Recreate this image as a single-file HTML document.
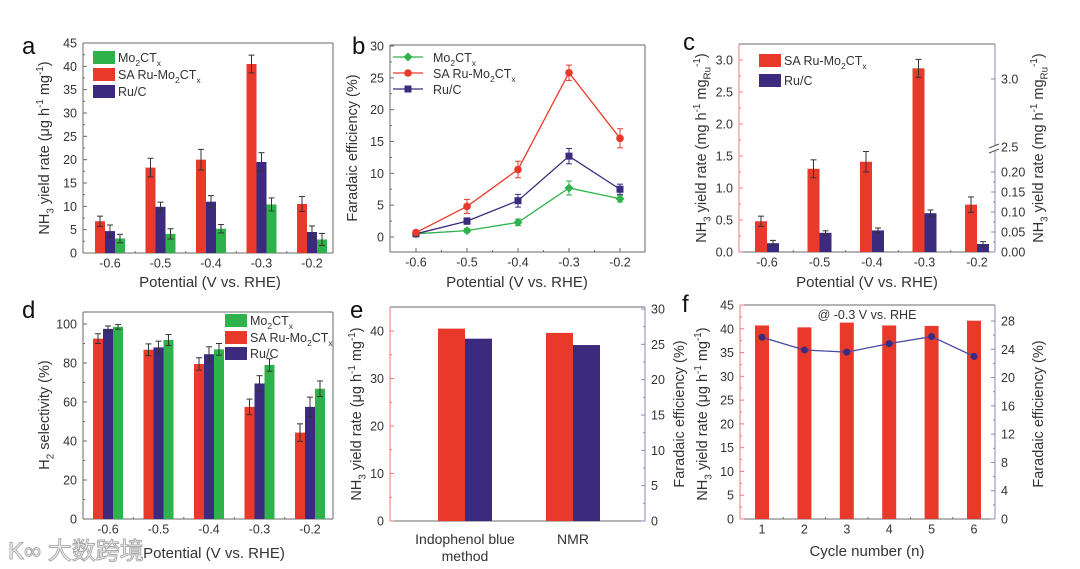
<!DOCTYPE html>
<html><head><meta charset="utf-8"><style>
html,body{margin:0;padding:0;background:#fff;}
svg{display:block;font-family:"Liberation Sans",Arial,sans-serif;}
</style></head><body>
<svg id="fig" width="1080" height="569" viewBox="0 0 1080 569" xmlns="http://www.w3.org/2000/svg"></svg>
<script>
// ---- data ----
const potentials = [-0.6, -0.5, -0.4, -0.3, -0.2];
// panel a
const aRed = [6.8, 18.3, 20.0, 40.5, 10.5];
const aRedErr = [1.1, 2.0, 2.2, 1.9, 1.6];
const aBlue = [4.7, 9.9, 11.0, 19.5, 4.5];
const aBlueErr = [1.3, 1.0, 1.3, 2.0, 1.3];
const aGreen = [3.1, 4.1, 5.2, 10.4, 2.9];
const aGreenErr = [0.9, 1.1, 0.9, 1.4, 1.3];
// panel b
const bGreen = [0.5, 1.0, 2.3, 7.7, 6.0];
const bGreenErr = [0.2, 0.3, 0.5, 1.1, 0.5];
const bRed = [0.7, 4.8, 10.6, 25.8, 15.5];
const bRedErr = [0.3, 1.1, 1.3, 1.2, 1.5];
const bBlue = [0.5, 2.5, 5.7, 12.7, 7.5];
const bBlueErr = [0.3, 0.5, 1.0, 1.2, 0.8];
// panel c
const cRed = [0.48, 1.30, 1.41, 2.87, 0.74];
const cRedErr = [0.08, 0.14, 0.16, 0.14, 0.12];
const cBlue = [0.022, 0.048, 0.054, 0.097, 0.020];
const cBlueErr = [0.007, 0.005, 0.006, 0.008, 0.006];
// panel d
const dRed = [92.5, 86.8, 79.5, 57.5, 44.3];
const dRedErr = [2.5, 3.0, 3.2, 4.0, 4.5];
const dBlue = [97.5, 88.0, 84.5, 69.5, 57.5];
const dBlueErr = [1.5, 3.2, 3.8, 4.0, 5.0];
const dGreen = [98.5, 91.8, 87.0, 79.0, 66.8];
const dGreenErr = [1.2, 2.8, 3.0, 3.2, 4.0];
// panel e
const eMethods = ["Indophenol blue", "NMR"];
const eYield = [40.5, 39.6];
const eFE = [25.8, 24.9];
// panel f
const fCycles = [1, 2, 3, 4, 5, 6];
const fYield = [40.7, 40.3, 41.3, 40.7, 40.6, 41.7];
const fFE = [25.7, 23.9, 23.6, 24.8, 25.8, 23.0];
// tick labels
const aTicks = [0, 5, 10, 15, 20, 25, 30, 35, 40, 45];
const bTicks = [0, 5, 10, 15, 20, 25, 30];
const cLeftTicks = [0, 0.5, 1.0, 1.5, 2.0, 2.5, 3.0];
const cRightTicks = [0, 0.05, 0.10, 0.15, 0.20];
const dTicks = [0, 20, 40, 60, 80, 100];
const eLeftTicks = [0, 10, 20, 30, 40];
const eRightTicks = [0, 5, 10, 15, 20, 25, 30];
const fLeftTicks = [0, 5, 10, 15, 20, 25, 30, 35, 40, 45];
const fRightTicks = [0, 4, 8, 12, 16, 20, 24, 28];

const RED = "#e8392b", BLUE = "#3b2a7e", GREEN = "#2fb24b", AX = "#6a6a6a", TXT = "#333";
const svg = document.getElementById("fig");
const NS = "http://www.w3.org/2000/svg";
function el(tag, attrs, parent) {
  const e = document.createElementNS(NS, tag);
  for (const k in attrs) e.setAttribute(k, attrs[k]);
  (parent || svg).appendChild(e);
  return e;
}
function rich(x, y, str, size, anchor, rot, parent) {
  const t = el("text", {x: x, y: y, "font-size": size, fill: TXT, "text-anchor": anchor || "start"}, parent);
  if (rot) t.setAttribute("transform", "rotate(-90 " + x + " " + y + ")");
  const parts = str.split(/(_\{[^}]*\}|\^\{[^}]*\})/);
  let off = 0;
  parts.forEach(p => {
    if (!p) return;
    const ts = document.createElementNS(NS, "tspan");
    let want = 0, s = p;
    if (p.startsWith("_{")) { want = size * 0.3; s = p.slice(2, -1); ts.setAttribute("font-size", size * 0.68); }
    else if (p.startsWith("^{")) { want = -size * 0.4; s = p.slice(2, -1); ts.setAttribute("font-size", size * 0.68); }
    ts.setAttribute("dy", want - off); off = want;
    ts.textContent = s;
    t.appendChild(ts);
  });
  return t;
}
function lin(d0, d1, r0, r1) { return v => r0 + (v - d0) * (r1 - r0) / (d1 - d0); }
function box(x0, y0, x1, y1, leftCol, rightCol) {
  const g = el("g", {});
  el("line", {x1: x0, y1: y0, x2: x1, y2: y0, stroke: AX}, g);
  el("line", {x1: x0, y1: y1, x2: x1, y2: y1, stroke: AX}, g);
  el("line", {x1: x0, y1: y0, x2: x0, y2: y1, stroke: leftCol || AX}, g);
  el("line", {x1: x1, y1: y0, x2: x1, y2: y1, stroke: rightCol || AX}, g);
  return g;
}
function yTicks(ticks, ys, x, side, col, fmt, minor) {
  ticks.forEach((v, i) => {
    const y = ys(v);
    const dir = side === "left" ? 1 : -1;
    el("line", {x1: x, y1: y, x2: x + dir * 4, y2: y, stroke: col || AX});
    if (minor && i < ticks.length - 1) {
      const ym = ys((v + ticks[i + 1]) / 2);
      el("line", {x1: x, y1: ym, x2: x + dir * 2, y2: ym, stroke: col || AX});
    }
    const t = el("text", {x: side === "left" ? x - 6 : x + 6, y: y + 4.5, "font-size": 12.5, fill: TXT, "text-anchor": side === "left" ? "end" : "start"});
    
    
    t.textContent = fmt ? fmt(v) : v;
  });
}
function xTicks(cats, xs, y, labels, step) {
  cats.forEach((c, i) => {
    const x = xs(c);
    el("line", {x1: x, y1: y, x2: x, y2: y - 4, stroke: AX});
    if (step && i < cats.length - 1) { const xm = xs(c + step / 2); el("line", {x1: xm, y1: y, x2: xm, y2: y - 2, stroke: AX}); }
    const t = el("text", {x: x, y: y + 14.5, "font-size": 12.5, fill: TXT, "text-anchor": "middle"});
    
    
    t.textContent = labels ? labels[i] : c.toFixed(1);
  });
}
function bar(x, w, ybase, ytop, col, name) {
  const r = el("rect", {x: x, y: Math.min(ytop, ybase), width: w, height: Math.abs(ybase - ytop), fill: col});
  
  
  return r;
}
function err(x, ylo, yhi) {
  el("line", {x1: x, y1: ylo, x2: x, y2: yhi, stroke: "#333", "stroke-width": 1});
  el("line", {x1: x - 3, y1: ylo, x2: x + 3, y2: ylo, stroke: "#333"});
  el("line", {x1: x - 3, y1: yhi, x2: x + 3, y2: yhi, stroke: "#333"});
}
function letter(x, y, s) {
  const t = el("text", {x: x, y: y, "font-size": 24, fill: "#111"});
  
  
  t.textContent = s;
}
function legendBox(x, y, col, label) {
  const r = el("rect", {x: x, y: y - 6, width: 22, height: 13, fill: col});
  
  
  const t = rich(x + 25, y + 5, label, 12.5);
  
  
}
function marker(kind, x, y, col) {
  if (kind === "circle") return el("circle", {cx: x, cy: y, r: 3.8, fill: col});
  if (kind === "square") return el("rect", {x: x - 3.5, y: y - 3.5, width: 7, height: 7, fill: col});
  return el("polygon", {points: [x, y - 4.5, x + 4.5, y, x, y + 4.5, x - 4.5, y].join(" "), fill: col});
}

// ===== Panel a =====
(function () {
  const x0 = 83, x1 = 333, y0 = 43, y1 = 253;
  const ys = lin(0, 45, y1, y0), xs = lin(-0.6, -0.2, 110, 312);
  box(x0, y0, x1, y1);
  yTicks(aTicks, ys, x0, "left", AX, null, true);
  xTicks(potentials, xs, y1, null, 0.1);
  potentials.forEach((p, i) => {
    const c = xs(p);
    bar(c - 15, 10, ys(0), ys(aRed[i]), RED, "bar-a-sa-ru");
    err(c - 10, ys(aRed[i] - aRedErr[i]), ys(aRed[i] + aRedErr[i]));
    bar(c - 5, 10, ys(0), ys(aBlue[i]), BLUE, "bar-a-ru-c");
    err(c, ys(aBlue[i] - aBlueErr[i]), ys(aBlue[i] + aBlueErr[i]));
    bar(c + 5, 10, ys(0), ys(aGreen[i]), GREEN, "bar-a-mo2ctx");
    err(c + 10, ys(aGreen[i] - aGreenErr[i]), ys(aGreen[i] + aGreenErr[i]));
  });
  legendBox(93, 57, GREEN, "Mo_{2}CT_{x}");
  legendBox(93, 74, RED, "SA Ru-Mo_{2}CT_{x}");
  legendBox(93, 91, BLUE, "Ru/C");
  const yt = rich(49, 148, "NH_{3} yield rate (μg h^{-1} mg^{-1})", 14.5, "middle", true);
   
  const xt = rich(210, 287, "Potential (V vs. RHE)", 15, "middle");
   
  letter(22, 54, "a");
})();

// ===== Panel b =====
(function () {
  const x0 = 390, x1 = 645, y0 = 45, y1 = 252;
  const ys = lin(0, 30, 237, 46), xs = lin(-0.6, -0.2, 416, 620);
  box(x0, y0, x1, y1);
  yTicks(bTicks, ys, x0, "left", AX, null, true);
  xTicks(potentials, xs, y1, null, 0.1);
  const series = [[bGreen, bGreenErr, GREEN, "diamond", "mo2ctx"], [bBlue, bBlueErr, BLUE, "square", "ru-c"], [bRed, bRedErr, RED, "circle", "sa-ru"]];
  series.forEach(([vals, errs, col, mk, nm]) => {
    const pl = el("polyline", {points: potentials.map((p, i) => xs(p) + "," + ys(vals[i])).join(" "), fill: "none", stroke: col, "stroke-width": 1.3});
    
    
    potentials.forEach((p, i) => {
      const x = xs(p);
      el("line", {x1: x, y1: ys(vals[i] - errs[i]), x2: x, y2: ys(vals[i] + errs[i]), stroke: col});
      el("line", {x1: x - 3, y1: ys(vals[i] - errs[i]), x2: x + 3, y2: ys(vals[i] - errs[i]), stroke: col});
      el("line", {x1: x - 3, y1: ys(vals[i] + errs[i]), x2: x + 3, y2: ys(vals[i] + errs[i]), stroke: col});
      const m = marker(mk, x, ys(vals[i]), col);
      
      
    });
  });
  const leg = [[GREEN, "diamond", "Mo_{2}CT_{x}", 57], [RED, "circle", "SA Ru-Mo_{2}CT_{x}", 73], [BLUE, "square", "Ru/C", 89]];
  leg.forEach(([col, mk, lab, y]) => {
    el("line", {x1: 393, y1: y, x2: 423, y2: y, stroke: col, "stroke-width": 1.3});
    marker(mk, 408, y, col);
    const t = rich(433, y + 5, lab, 12.5);
     
  });
  const yt = rich(357, 148, "Faradaic efficiency (%)", 14.5, "middle", true);
   
  const xt = rich(517, 287, "Potential (V vs. RHE)", 15, "middle");
   
  letter(352, 54, "b");
})();

// ===== Panel c =====
(function () {
  const x0 = 739, x1 = 995, y0 = 44, y1 = 252;
  const ys = lin(0, 3.0, y1, 60), yr = lin(0, 0.05, y1, 232), xs = lin(-0.6, -0.2, 767, 977);
  box(x0, y0, x1, y1, "#e77", "#88b");
  yTicks(cLeftTicks, ys, x0, "left", "#e77", v => v.toFixed(1), true);
  yTicks(cRightTicks, yr, x1, "right", "#88b", v => v.toFixed(2), true);
  [[2.5, 147], [3.0, 79]].forEach(([v, y]) => {
    el("line", {x1: x1, y1: y, x2: x1 - 4, y2: y, stroke: "#88b"});
    const t = el("text", {x: x1 + 6, y: y + 4.5, "font-size": 12.5, fill: TXT});
     
    t.textContent = v.toFixed(1);
  });
  el("rect", {x: x1 - 4, y: 146, width: 8, height: 5, fill: "#fff"});
  el("line", {x1: x1 - 6, y1: 148, x2: x1 + 4, y2: 144, stroke: "#555"});
  el("line", {x1: x1 - 6, y1: 153, x2: x1 + 4, y2: 149, stroke: "#555"});
  xTicks(potentials, xs, y1, null, 0.1);
  potentials.forEach((p, i) => {
    const c = xs(p);
    bar(c - 12, 12, ys(0), ys(cRed[i]), RED, "bar-c-sa-ru");
    err(c - 6, ys(cRed[i] - cRedErr[i]), ys(cRed[i] + cRedErr[i]));
    bar(c, 12, yr(0), yr(cBlue[i]), BLUE, "bar-c-ru-c");
    err(c + 6, yr(cBlue[i] - cBlueErr[i]), yr(cBlue[i] + cBlueErr[i]));
  });
  legendBox(759, 60, RED, "SA Ru-Mo_{2}CT_{x}");
  legendBox(759, 80, BLUE, "Ru/C");
  const yt = rich(706, 148, "NH_{3} yield rate (mg h^{-1} mg_{Ru}^{-1})", 14.5, "middle", true);
   
  const yt2 = rich(1043, 148, "NH_{3} yield rate (mg h^{-1} mg_{Ru}^{-1})", 14.5, "middle", true);
   
  const xt = rich(867, 287, "Potential (V vs. RHE)", 15, "middle");
   
  letter(683, 50, "c");
})();

// ===== Panel d =====
(function () {
  const x0 = 83, x1 = 333, y0 = 312, y1 = 519;
  const ys = lin(0, 100, y1, 324), xs = lin(-0.6, -0.2, 108, 310);
  box(x0, y0, x1, y1);
  yTicks(dTicks, ys, x0, "left", AX, null, true);
  xTicks(potentials, xs, y1, null, 0.1);
  potentials.forEach((p, i) => {
    const c = xs(p);
    bar(c - 15, 10, ys(0), ys(dRed[i]), RED, "bar-d-sa-ru");
    err(c - 10, ys(dRed[i] - dRedErr[i]), ys(dRed[i] + dRedErr[i]));
    bar(c - 5, 10, ys(0), ys(dBlue[i]), BLUE, "bar-d-ru-c");
    err(c, ys(dBlue[i] - dBlueErr[i]), ys(dBlue[i] + dBlueErr[i]));
    bar(c + 5, 10, ys(0), ys(dGreen[i]), GREEN, "bar-d-mo2ctx");
    err(c + 10, ys(dGreen[i] - dGreenErr[i]), ys(dGreen[i] + dGreenErr[i]));
  });
  legendBox(225, 320, GREEN, "Mo_{2}CT_{x}");
  legendBox(225, 337, RED, "SA Ru-Mo_{2}CT_{x}");
  legendBox(225, 353, BLUE, "Ru/C");
  const yt = rich(49, 415, "H_{2} selectivity (%)", 14.5, "middle", true);
   
  const xt = rich(214, 558, "Potential (V vs. RHE)", 15, "middle");
   
  letter(22, 318, "d");
})();

// ===== Panel e =====
(function () {
  const x0 = 390, x1 = 645, y0 = 307, y1 = 521;
  const ys = lin(0, 40, y1, 331), yr = lin(0, 30, y1, 309);
  box(x0, y0, x1, y1, "#e77", "#88b");
  yTicks(eLeftTicks, ys, x0, "left", "#e77", null, true);
  yTicks(eRightTicks, yr, x1, "right", "#88b", null, true);
  const centers = [465, 573];
  eMethods.forEach((m, i) => {
    const c = centers[i];
    bar(c - 27, 27, ys(0), ys(eYield[i]), RED, "bar-e-yield");
    bar(c, 27, yr(0), yr(eFE[i]), BLUE, "bar-e-fe");
  });
  [["Indophenol blue", 465, 544], ["method", 465, 561], ["NMR", 573, 544]].forEach(([s, x, y]) => {
    const t = el("text", {x: x, y: y, "font-size": 14, fill: TXT, "text-anchor": "middle"});
     
    t.textContent = s;
  });
  const yt = rich(361, 414, "NH_{3} yield rate (μg h^{-1} mg^{-1})", 14.5, "middle", true);
   
  const yt2 = rich(684, 414, "Faradaic efficiency (%)", 14.5, "middle", true);
   
  letter(350, 318, "e");
})();

// ===== Panel f =====
(function () {
  const x0 = 740, x1 = 995, y0 = 305, y1 = 519;
  const ys = lin(0, 45, y1, 305), yr = lin(0, 28, y1, 321), xs = lin(1, 6, 762, 974);
  box(x0, y0, x1, y1, "#e77", "#88b");
  yTicks(fLeftTicks, ys, x0, "left", "#e77", null, true);
  yTicks(fRightTicks, yr, x1, "right", "#88b", null, true);
  xTicks(fCycles, xs, y1, fCycles.map(String), 1);
  fCycles.forEach((c, i) => bar(xs(c) - 7, 14, ys(0), ys(fYield[i]), RED, "bar-f-yield"));
  const pl = el("polyline", {points: fCycles.map((c, i) => xs(c) + "," + yr(fFE[i])).join(" "), fill: "none", stroke: "#4a4aa0", "stroke-width": 1.3});
  
  
  fCycles.forEach((c, i) => {
    const m = el("circle", {cx: xs(c), cy: yr(fFE[i]), r: 3.5, fill: BLUE});
    
    
  });
  const an = el("text", {x: 867, y: 319, "font-size": 12.5, fill: TXT, "text-anchor": "middle"});
   
  an.textContent = "@ -0.3 V vs. RHE";
  const yt = rich(707, 414, "NH_{3} yield rate (μg h^{-1} mg^{-1})", 14.5, "middle", true);
   
  const yt2 = rich(1043, 414, "Faradaic efficiency (%)", 14.5, "middle", true);
   
  const xt = rich(867, 556, "Cycle number (n)", 15, "middle");
   
  letter(682, 312, "f");
})();

// watermark
const wm = el("text", {x: 8, y: 559, "font-size": 24, fill: "#fff", stroke: "#aaa", "stroke-width": 1, "font-family": "'Liberation Sans','Noto Sans CJK SC',sans-serif"});


wm.textContent = "K∞ 大数跨境";
</script>
</body></html>
